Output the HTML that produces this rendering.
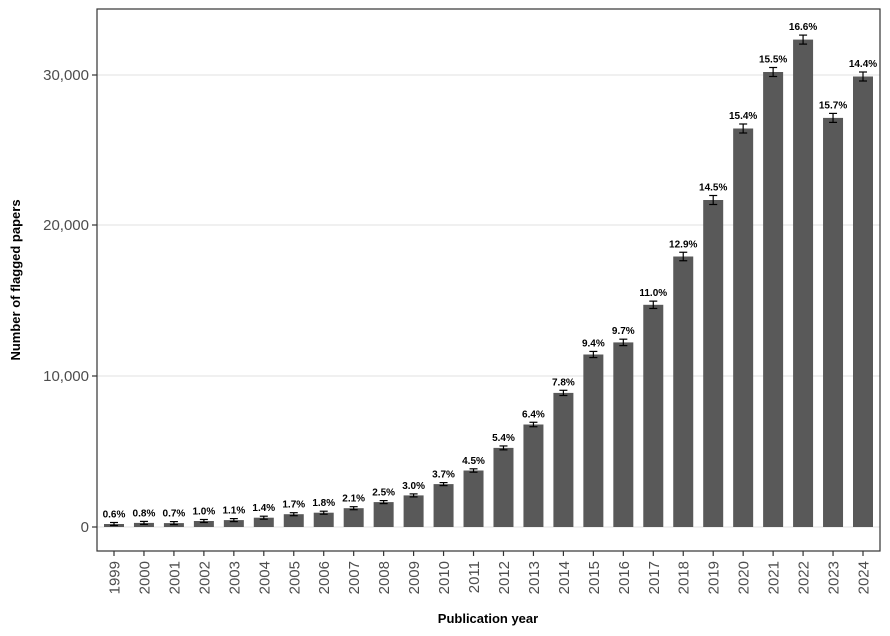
<!DOCTYPE html>
<html><head><meta charset="utf-8"><style>body{margin:0;background:#fff}svg{display:block}text{font-family:"Liberation Sans",Arial,sans-serif}</style></head><body>
<svg width="890" height="636" viewBox="0 0 890 636">
<rect x="0" y="0" width="890" height="636" fill="#fff"/>
<g stroke="#ebebeb" stroke-width="1.5">
<line x1="97" x2="880" y1="527" y2="527"/><line x1="97" x2="880" y1="376" y2="376"/><line x1="97" x2="880" y1="225" y2="225"/><line x1="97" x2="880" y1="75" y2="75"/>
</g>
<g id="bars" fill="#595959"></g>
<rect x="97" y="9" width="783" height="542" fill="none" stroke="#333" stroke-width="1.2"/>
<g stroke="#333" stroke-width="1.2">
<line x1="92" x2="97" y1="527" y2="527"/><line x1="92" x2="97" y1="376" y2="376"/><line x1="92" x2="97" y1="225" y2="225"/><line x1="92" x2="97" y1="75" y2="75"/>
</g>
<g font-size="15" fill="#4d4d4d" text-anchor="end">
<text x="89" y="532">0</text><text x="89" y="381">10,000</text><text x="89" y="230">20,000</text><text x="89" y="80">30,000</text>
</g>
<text x="0" y="0" transform="translate(20,280) rotate(-90)" font-size="13" font-weight="bold" text-anchor="middle" fill="#000">Number of flagged papers</text>
<text x="488" y="623" font-size="13" font-weight="bold" text-anchor="middle" fill="#000">Publication year</text>
<g id="years" font-size="15" fill="#4d4d4d" text-anchor="end"></g>
<g id="labs" font-size="10" font-weight="bold" text-anchor="middle" fill="#000"></g>
<g id="err" stroke="#000" stroke-width="1.2"></g>
</svg>
<script>
var tops=[524.0,522.9,523.1,521.0,520.1,517.7,514.2,512.7,508.2,502.1,495.4,484.1,470.5,447.9,424.5,392.9,354.5,342.4,304.8,256.5,200.0,128.5,72.0,39.6,117.9,76.5];
var labs=["0.6%","0.8%","0.7%","1.0%","1.1%","1.4%","1.7%","1.8%","2.1%","2.5%","3.0%","3.7%","4.5%","5.4%","6.4%","7.8%","9.4%","9.7%","11.0%","12.9%","14.5%","15.4%","15.5%","16.6%","15.7%","14.4%"];
var ns="http://www.w3.org/2000/svg";
function el(t,a,p){var e=document.createElementNS(ns,t);for(var k in a)e.setAttribute(k,a[k]);document.getElementById(p).appendChild(e);return e;}
for(var i=0;i<26;i++){var cx=114+i*29.96,t=tops[i],h=527-t,er=Math.max(1.5,Math.min(4.5,h*0.012+1));
el("rect",{x:cx-10,y:t,width:20,height:h},"bars");
el("line",{x1:cx,x2:cx,y1:t-er,y2:t+er},"err");
el("line",{x1:cx-4,x2:cx+4,y1:t-er,y2:t-er},"err");
el("line",{x1:cx-4,x2:cx+4,y1:t+er,y2:t+er},"err");
el("line",{x1:cx,x2:cx,y1:551,y2:556,stroke:"#333"},"err");
el("text",{x:cx,y:t-er-5},"labs").textContent=labs[i];
var y=el("text",{x:0,y:0,transform:"translate("+(cx+5.5)+",561) rotate(-90)"},"years");y.textContent=1999+i;}
</script>
</body></html>
